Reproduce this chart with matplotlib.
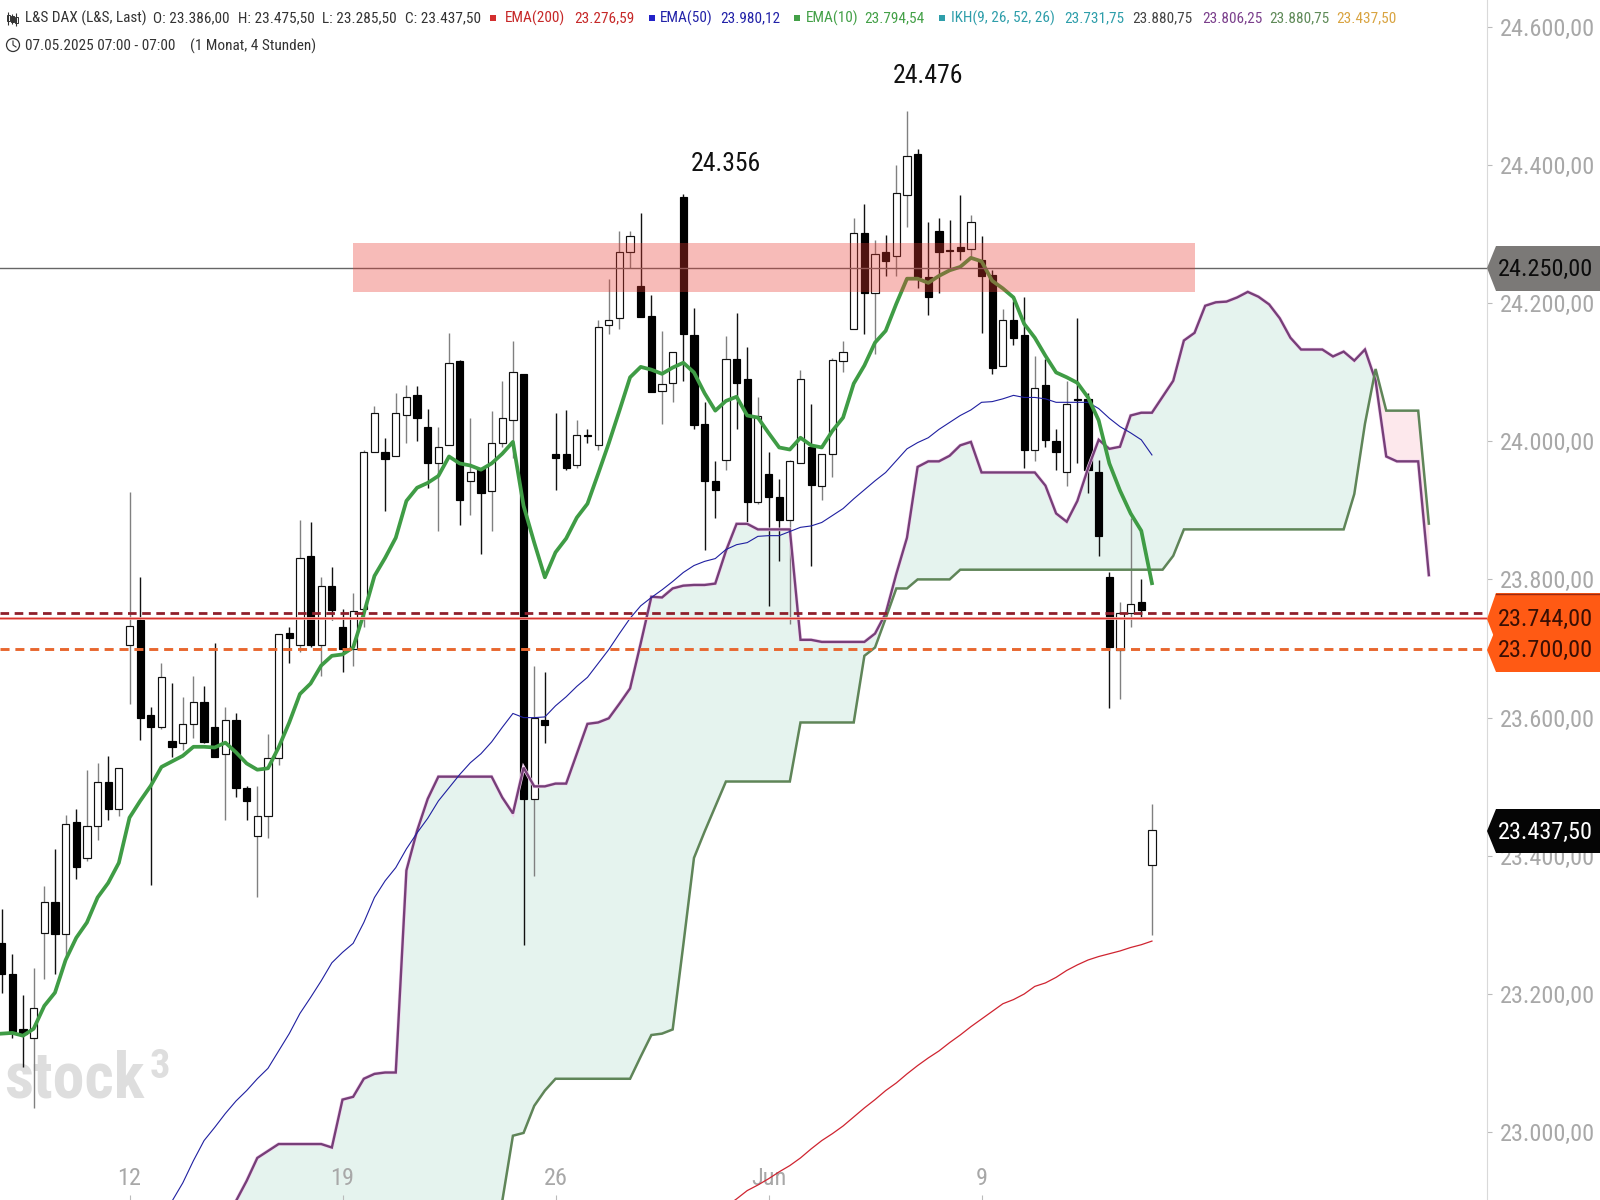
import numpy as np
import matplotlib
matplotlib.use("Agg")
import matplotlib.pyplot as plt
from matplotlib.patches import Polygon, Circle, Rectangle
from matplotlib.ticker import FuncFormatter

plt.rcParams['font.family'] = ['Roboto Condensed', 'Archivo Narrow', 'Roboto', 'DejaVu Sans']

# candles, 4h bars, bar 0 sits on the "12" tick
first_bar = -12
opens = [23277,23233,23153,23141,23292,23337,23290,23452,23400,23446,23510,23471,
    23707,23743,23606,23588,23569,23566,23593,23625,23588,23549,23598,23501,23432,23461,23544,23724,23707,23834,
    23707,23791,23732,23701,23759,23984,23984,23978,24038,24066,24020,23969,23995,24115,23943,23961,23929,23997,24031,24097,
    23485,23598,23981,23981,23966,24009,23995,24168,24178,24273,24224,24181,24073,24084,24352,24153,24025,23942,23973,24119,
    24089,23913,23953,23920,23887,23969,23992,23936,23981,24116,24162,24300,24214,24273,24266,24355,24413,24236,24302,24276,
    24279,24277,24261,24240,24109,24175,24153,23988,24081,24001,23956,24061,24061,23956,23804,23700,23753,23768,23386]
highs = [23327,23262,23203,23241,23360,23413,23462,23471,23526,23537,23547,23530,
    23927,23804,23618,23681,23652,23631,23662,23647,23709,23618,23608,23503,23503,23579,23723,23732,23886,23883,
    23804,23819,23759,23782,23988,24051,24005,24069,24081,24079,24047,24020,24156,24117,24034,23962,24044,24086,24145,24097,
    23677,23667,24041,24045,24030,24018,24174,24234,24302,24303,24328,24210,24159,24129,24356,24192,24056,23971,24152,24184,
    24136,24063,23985,23945,23973,24103,24054,23981,24120,24145,24322,24342,24289,24297,24398,24476,24421,24315,24322,24318,
    24354,24325,24295,24246,24191,24202,24207,24122,24119,24018,24087,24178,24070,23973,23812,23768,23889,23801,23475.5]
lows = [23206,23140,23099,23040,23226,23233,23255,23370,23395,23426,23455,23461,
    23622,23570,23361,23586,23546,23556,23573,23565,23546,23455,23487,23455,23343,23429,23534,23680,23696,23704,
    23662,23742,23667,23677,23733,23984,23899,23978,23998,24001,23933,23870,23995,23880,23894,23838,23870,23991,23976,23275,
    23374,23565,23930,23958,23961,23997,23988,24155,24162,24249,24179,24071,24025,24057,24087,24017,23844,23890,23958,24017,
    23884,23910,23762,23828,23737,23969,23821,23916,23948,24099,24161,24155,24126,24238,24238,24308,24220,24182,24214,24250,
    24261,24264,24156,24097,24109,24138,23961,23972,23991,23958,23936,23968,23926,23835,23616,23629,23732,23746,23285.5]
closes = [23233,23150,23147,23184,23337,23290,23449,23387,23446,23510,23470,23530,
    23734,23602,23589,23660,23560,23593,23625,23567,23546,23598,23500,23482,23461,23544,23723,23716,23832,23707,
    23791,23757,23701,23756,23984,24041,23975,24041,24063,24033,23969,23992,24112,23916,23955,23926,23998,24034,24100,23485,
    23601,23592,23976,23962,24009,24007,24165,24175,24273,24295,24179,24071,24083,24129,24155,24024,23943,23930,24119,24084,
    23913,24037,23919,23887,23971,24089,23937,23981,24117,24129,24300,24214,24270,24260,24358,24410,24236,24208,24272,24274,
    24274,24316,24238,24106,24175,24148,23988,24076,24002,23985,24054,24060,23958,23863,23704,23753,23766,23757,23437.5]

ema10 = [23147,23148,23144,23154,23187,23206,23253,23285,23307,23343,23364,23393,
    23458,23482,23504,23531,23539,23547,23560,23560,23559,23566,23552,23536,23527,23529,23559,23595,23636,23651,
    23677,23691,23693,23703,23752,23806,23832,23861,23914,23933,23940,23950,23978,23968,23965,23959,23968,23982,23999,23907,
    23854,23804,23840,23860,23890,23910,23953,23997,24044,24092,24107,24103,24097,24106,24113,24099,24069,24044,24058,24064,
    24037,24034,24012,23991,23988,24005,23994,23991,24015,24034,24083,24109,24142,24159,24198,24234,24234,24228,24238,24246,
    24251,24264,24259,24231,24220,24207,24169,24149,24123,24099,24092,24084,24063,24030,23968,23929,23896,23871,23794.54]

ema50_start = 3
ema50 = [22875,22906,22932,22964,22993,23012,23032,23050,23065,23082,23097,23122,23147,23176,23199,23223,23249,23264,23277,
    23307,23343,23367,23386,23413,23436,23457,23482,23501,23520,23537,23550,23567,23588,23608,23602,23602,23603,23619,23632,
    23647,23660,23680,23700,23723,23745,23763,23775,23786,23798,23811,23821,23827,23831,23844,23851,23854,23863,23864,23864,
    23870,23876,23878,23883,23893,23903,23917,23930,23943,23955,23972,23989,23998,24005,24017,24027,24037,24045,24056,24057,
    24061,24066,24063,24063,24061,24056,24056,24056,24056,24047,24033,24021,24012,24002,23980.12]

ema200_start = 56
ema200 = [22898,22909,22921,22929,22938,22948,22957,22968,22981,22993,23003,23014,23027,23040,23052,23065,23076,23089,23101,
    23112,23122,23134,23145,23157,23168,23179,23190,23196,23204,23215,23220,23228,23238,23246,23253,23258,23262,23266,23271,
    23275,23276.59]

# ichimoku runs 26 bars past the last candle
ikh_start = 10
span_a = [22906,22935,22968,22978,22988,22988,22988,22988,22988,22983,23052,23056,23082,23089,23091,23091,
    23382,23439,23485,23517,23517,23517,23517,23517,23517,23487,23464,23530,23503,23503,23507,23507,23550,23593,23595,23601,
    23622,23644,23709,23776,23775,23788,23792,23793,23793,23795,23842,23881,23881,23873,23873,23873,23873,23714,23714,23711,
    23711,23711,23711,23711,23723,23752,23809,23861,23963,23971,23971,23979,23994,23999,23955,23955,23955,23955,23955,23955,
    23936,23896,23884,23914,23961,24002,23989,23992,24037,24041,24041,24064,24087,24145,24156,24195,24200,24201,24207,24215,
    24208,24197,24177,24149,24132,24132,24132,24122,24129,24116,24132,24087,23978,23971,23971,23971,23806.25]
span_b = [22880,22880,22880,22880,22880,22880,22880,22880,22880,22880,22880,22880,22880,22880,22880,22880,22880,22880,22880,
    22880,22880,22880,22880,22880,22880,22906,23000,23004,23043,23065,23082,23082,23082,23082,23082,23082,23082,23082,
    23114,23145,23147,23153,23275,23400,23438,23474,23510,23510,23510,23510,23510,23510,23510,23595,23595,23595,23595,23595,23595,
    23691,23703,23745,23788,23788,23801,23801,23801,23801,23815,23815,23815,23815,23815,23815,23815,23815,23815,23815,
    23815,23815,23815,23815,23815,23815,23815,23815,23815,23815,23835,23873,23873,23873,23873,23873,23873,23873,23873,
    23873,23873,23873,23873,23873,23873,23873,23873,23924,24025,24104,24044,24044,24044,24044,23880.75]

zone_low, zone_high = 24216, 24287
zone_bars = [21, 100]
level_grey = 24250
level_dark = 23752
level_red = 23744
level_orange = 23700

price_ticks = [23000, 23200, 23400, 23600, 23800, 24000, 24200, 24400, 24600]
date_ticks = [0, 20, 40, 60, 80]
date_labels = ['12', '19', '26', 'Jun', '9']
peak_labels = [('24.356', 56, 24401), ('24.476', 75, 24528)]

header_items = [
    ('L&S DAX (L&S, Last)', 25, '#333333'), ('O: 23.386,00', 153, '#333333'), ('H: 23.475,50', 238, '#333333'),
    ('L: 23.285,50', 322, '#333333'), ('C: 23.437,50', 405, '#333333'),
    ('EMA(200)', 505, '#c62828'), ('23.276,59', 574, '#c62828'),
    ('EMA(50)', 660, '#2222a8'), ('23.980,12', 720, '#2222a8'),
    ('EMA(10)', 806, '#43a047'), ('23.794,54', 864, '#43a047'),
    ('IKH(9, 26, 52, 26)', 951, '#2e9eaa'), ('23.731,75', 1064, '#2e9eaa'), ('23.880,75', 1132, '#444444'),
    ('23.806,25', 1202, '#7b3f8c'), ('23.880,75', 1269, '#5f8a58'), ('23.437,50', 1336, '#d9a441'),
]
header_squares = [(490, '#d32f2f'), (649, '#2222c8'), (794, '#43a047'), (939, '#2e9eaa')]


def read_off(values):
    # estimates were read with a slightly tight price scale, last value of each list is exact from the header
    arr = np.array(values, dtype=float)
    arr[:-1] = 24000 + (arr[:-1] - 24000) * 0.6945 / 0.691
    return arr


fig = plt.figure(figsize=(16, 12), dpi=100, facecolor='white')

# watermark sits behind the candles
bg = fig.add_axes([0, 0, 1, 1], zorder=0)
bg.set_xlim(0, 1600)
bg.set_ylim(1200, 0)
bg.axis('off')
bg.text(4, 1098, 'stock', fontsize=46, color='#dedede', fontweight='bold', va='baseline', ha='left')
bg.text(150, 1078, '3', fontsize=29, color='#dedede', fontweight='bold', va='baseline', ha='left')

ax = fig.add_axes([0, 0, 1487 / 1600, 1], zorder=1)
ax.patch.set_alpha(0)
ax.set_xlim(-12.16, 127.46)
ax.set_ylim(22901.9, 24638.5)

bars = np.arange(first_bar, first_bar + len(opens))
o = read_off(opens)
h = read_off(highs)
l = read_off(lows)
c = read_off(closes)
up = c >= o

ikh_x = np.arange(ikh_start, ikh_start + len(span_a))
a = read_off(span_a)
b = read_off(span_b)
ax.fill_between(ikh_x, a, b, where=a >= b, interpolate=True, color='#e5f3ee', lw=0, zorder=1)
ax.fill_between(ikh_x, a, b, where=a <= b, interpolate=True, color='#fde8ec', lw=0, zorder=1)

ax.vlines(bars[up], l[up], h[up], color='#808080', lw=1.0, zorder=2)
ax.vlines(bars[~up], l[~up], h[~up], color='#111111', lw=1.0, zorder=2)
ax.bar(bars[up], (c - o)[up], bottom=o[up], width=0.68, facecolor='white', edgecolor='#111111', lw=0.85, zorder=3)
ax.bar(bars[~up], (c - o)[~up], bottom=o[~up], width=0.68, facecolor='black', edgecolor='black', lw=0.85, zorder=3)

ax.plot(ikh_x, a, color='#f3d3f0', lw=2.6, zorder=4, solid_joinstyle='miter')
ax.plot(ikh_x, a, color='#763f78', lw=1.7, zorder=4, solid_joinstyle='miter')
ax.plot(ikh_x, b, color='#5f8558', lw=1.8, zorder=4, solid_joinstyle='miter')
ax.plot(np.arange(ema200_start, ema200_start + len(ema200)), read_off(ema200), color='#cf2430', lw=0.9, zorder=4)
ax.plot(np.arange(ema50_start, ema50_start + len(ema50)), read_off(ema50), color='#1f1fa0', lw=0.8, zorder=5)
ax.plot(bars, read_off(ema10), color='#3f9c45', lw=2.7, zorder=5)

dash = (0, (3.1, 2.0))
ax.axhline(level_dark, color='#8e1f2a', lw=2.0, ls=dash, zorder=6)
ax.axhline(level_red, color='#f6b9b0', lw=2.0, zorder=6)
ax.axhline(level_red, color='#d8332f', lw=1.0, zorder=6)
ax.axhline(level_orange, color='#e8672f', lw=2.1, ls=dash, zorder=6)
ax.axhline(level_grey, color='#666666', lw=1.0, zorder=6)
ax.add_patch(Rectangle((zone_bars[0], zone_low), zone_bars[1] - zone_bars[0], zone_high - zone_low,
                       facecolor='#e8392f', alpha=0.34, lw=0, zorder=7))

for txt, bar, price in peak_labels:
    ax.text(bar, price, txt, ha='center', va='center', fontsize=18.5, color='#111111', zorder=8)

for side in ['top', 'left', 'bottom']:
    ax.spines[side].set_visible(False)
ax.spines['right'].set_color('#d9d9d9')
ax.yaxis.tick_right()
ax.set_yticks(price_ticks)
ax.yaxis.set_major_formatter(FuncFormatter(lambda v, pos: f"{v:,.2f}".replace(',', 'x').replace('.', ',').replace('x', '.')))
ax.tick_params(axis='y', length=3.6, width=0.8, color='#bbbbbb', pad=5.8, labelsize=17.5, labelcolor='#a8a8a8')
ax.set_xticks(date_ticks)
ax.set_xticklabels(date_labels)
ax.tick_params(axis='x', direction='in', length=3.6, width=0.8, color='#bbbbbb', pad=-24, labelsize=17.5, labelcolor='#a8a8a8')

# price tags and header in pixel coordinates, on top of everything
top = fig.add_axes([0, 0, 1, 1], zorder=2)
top.set_xlim(0, 1600)
top.set_ylim(1200, 0)
top.axis('off')


def price_tag(y0, y1, tip, color, text, text_y, text_color):
    pts = [(1487, tip), (1496, y0), (1600, y0), (1600, y1), (1496, y1)]
    top.add_patch(Polygon(pts, closed=True, facecolor=color, edgecolor='none'))
    top.text(1593, text_y, text, fontsize=17.5, color=text_color, ha='right', va='center')


price_tag(246, 291, 268, '#7b7977', '24.250,00', 269, '#0c0c0c')
price_tag(628, 672, 650, '#ff5a14', '23.700,00', 650, '#3a0f04')
price_tag(593, 642, 619, '#ff5a14', '23.744,00', 619, '#3a0f04')
top.plot([1496, 1600], [593.5, 593.5], color='#9c2b12', lw=1.0)
price_tag(809, 853, 831, '#050505', '23.437,50', 832, 'white')

for txt, x, col in header_items:
    top.text(x, 18, txt, fontsize=11, color=col, ha='left', va='center')
for x, col in header_squares:
    top.add_patch(Rectangle((x, 15), 6, 6, facecolor=col, lw=0))
top.text(25, 46, '07.05.2025 07:00 - 07:00', fontsize=11, color='#333333', ha='left', va='center')
top.text(190, 46, '(1 Monat, 4 Stunden)', fontsize=11, color='#333333', ha='left', va='center')

# little candle icon and clock
top.vlines([8, 12, 16], [12, 14, 13], [25, 24, 26], color='#333333', lw=0.8)
top.add_patch(Rectangle((6.5, 15), 3, 6, facecolor='white', edgecolor='#333333', lw=0.7))
top.add_patch(Rectangle((10.5, 16), 3, 6, facecolor='#333333', edgecolor='#333333', lw=0.7))
top.add_patch(Rectangle((14.5, 17), 3, 6, facecolor='white', edgecolor='#333333', lw=0.7))
top.add_patch(Circle((13, 45), 6.5, facecolor='none', edgecolor='#333333', lw=0.9))
top.plot([13, 13, 16], [41, 45, 47], color='#333333', lw=0.8)

fig.savefig('out.png', dpi=100)
